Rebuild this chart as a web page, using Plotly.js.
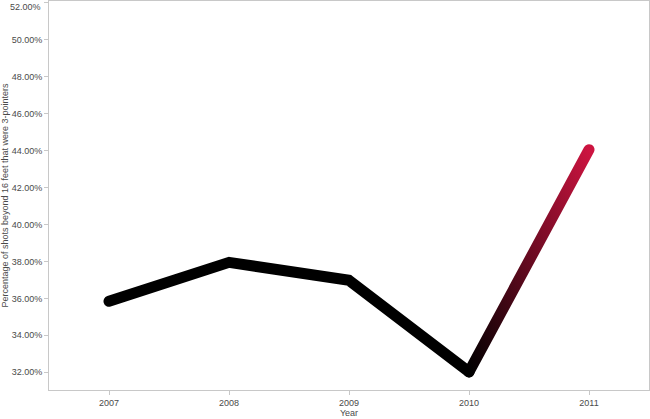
<!DOCTYPE html>
<html>
<head>
<meta charset="utf-8">
<script src="https://cdn.plot.ly/plotly-3.0.1.min.js"></script>
<style>
html,body{margin:0;padding:0;background:#fff;}
#chart{width:650px;height:419px;}
</style>
</head>
<body>
<div id="chart"></div>
<script>
var years = [2007, 2008, 2009, 2010, 2011];
var pct = [35.84, 37.95, 36.98, 32.02, 44.05];
var yTickVals = [32, 34, 36, 38, 40, 42, 44, 46, 48, 50, 52];
var yTickText = ['32.00%','34.00%','36.00%','38.00%','40.00%','42.00%','44.00%','46.00%','48.00%','50.00%',''];
var topLabel = '52.00%';
var xTitle = 'Year';
var yTitle = 'Percentage of shots beyond 16 feet that were 3-pointers';

var traces = [
  {x: years.slice(0,4), y: pct.slice(0,4), type:'scatter', mode:'lines',
   line:{color:'#000000', width:11}, hoverinfo:'skip', showlegend:false},
  {x: years.slice(3,5), y: pct.slice(3,5), type:'scatter', mode:'lines',
   line:{color:'#c8123f', width:11}, hoverinfo:'skip', showlegend:false}
];

var layout = {
  width:650, height:419,
  margin:{l:49, r:1, t:1, b:29},
  paper_bgcolor:'#ffffff', plot_bgcolor:'#ffffff',
  font:{family:'Liberation Sans, Arial, sans-serif', size:9, color:'#555555'},
  xaxis:{
    range:[2006.5, 2011.5], tickvals: years, ticktext: years.map(String),
    showgrid:false, zeroline:false, showline:true, linecolor:'#c8c8c8', linewidth:1,
    mirror:true, ticks:'outside', ticklen:4, tickcolor:'#c8c8c8',
    tickfont:{size:9, color:'#4a4a4a'},
    title:{text:xTitle, font:{size:9, color:'#4a4a4a'}, standoff:0}
  },
  yaxis:{
    range:[31.04, 52.1], tickvals: yTickVals, ticktext: yTickText,
    showgrid:false, zeroline:false, showline:true, linecolor:'#c8c8c8', linewidth:1,
    mirror:true, ticks:'outside', ticklen:4, tickcolor:'#c8c8c8',
    tickfont:{size:9, color:'#4a4a4a'},
    title:{text:yTitle, font:{size:9, color:'#4a4a4a'}, standoff:6}
  },
  annotations:[
    {text: topLabel, xref:'paper', yref:'paper', x:0, y:1, xanchor:'right', yanchor:'top',
     xshift:-6, yshift:1, showarrow:false, font:{size:9, color:'#4a4a4a'}}
  ]
};

Plotly.newPlot('chart', traces, layout, {displayModeBar:false, staticPlot:true}).then(function(gd){
  var svg = gd.querySelector('svg.main-svg');
  var defs = svg.querySelector('defs');
  var ns = 'http://www.w3.org/2000/svg';
  var grad = document.createElementNS(ns, 'linearGradient');
  grad.setAttribute('id', 'segGrad');
  grad.setAttribute('x1', '0'); grad.setAttribute('y1', '1');
  grad.setAttribute('x2', '1'); grad.setAttribute('y2', '0');
  var s1 = document.createElementNS(ns, 'stop');
  s1.setAttribute('offset', '0'); s1.setAttribute('stop-color', '#000000');
  var s2 = document.createElementNS(ns, 'stop');
  s2.setAttribute('offset', '1'); s2.setAttribute('stop-color', '#cc1440');
  grad.appendChild(s1); grad.appendChild(s2);
  defs.appendChild(grad);
  var paths = gd.querySelectorAll('.scatterlayer .trace path.js-line');
  paths.forEach(function(p, i){
    p.style.strokeLinecap = 'round';
    p.style.strokeLinejoin = 'round';
    if (i === 1) p.style.stroke = 'url(#segGrad)';
  });
});
</script>
</body>
</html>
